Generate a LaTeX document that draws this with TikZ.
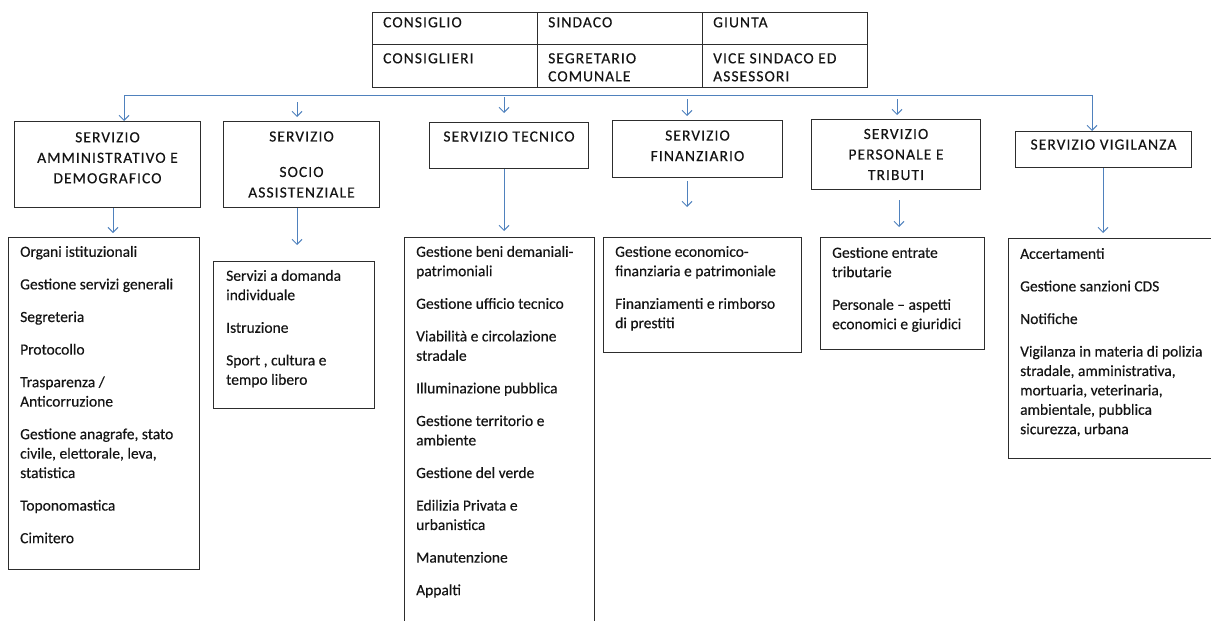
\documentclass[tikz,border=0pt]{standalone}
\usepackage{fontspec}
\setmainfont{Carlito}[FakeBold=0.35]
\newfontfamily\headfont{Carlito}[LetterSpace=7,FakeBold=0.35]
\usetikzlibrary{arrows.meta}

\definecolor{linkblue}{RGB}{79,129,189}
\definecolor{boxgray}{RGB}{45,45,45}
\definecolor{textgray}{RGB}{20,20,20}

\tikzset{
  cell/.style={draw=boxgray, line width=1pt, anchor=north west, inner sep=0pt, minimum width=165pt},
  headbox/.style={draw=boxgray, line width=1pt, anchor=north west, align=center, inner sep=0pt,
    text=textgray, font=\headfont\fontsize{15.5}{20.5}\selectfont},
  listbox/.style={draw=boxgray, line width=1pt, anchor=north west, inner sep=0pt},
  celltext/.style={anchor=north west, align=left, inner sep=0pt, text=textgray,
    font=\headfont\fontsize{15.5}{18}\selectfont},
  listtext/.style={anchor=north west, align=left, inner sep=0pt, text=textgray,
    font=\fontsize{15.5}{19.4}\selectfont},
  link/.style={draw=linkblue, line width=1pt, -{Straight Barb[length=5pt,width=10pt]}},
}

\begin{document}
\begin{tikzpicture}[x=1pt, y=-1pt]
    \useasboundingbox (0,0) rectangle (1211,621);

    % organi di governo
    \node[cell, minimum height=32pt] (consiglio) at (372,12) {};
    \node[cell, minimum height=32pt] (sindaco) at (537,12) {};
    \node[cell, minimum height=32pt] (giunta) at (702,12) {};
    \node[cell, minimum height=43pt] (consiglieri) at (372,44) {};
    \node[cell, minimum height=43pt] (segretario) at (537,44) {};
    \node[cell, minimum height=43pt] (assessori) at (702,44) {};

    \node[celltext] (consiglioT) at ([shift={(11,2.5)}]consiglio.north west) {\strut CONSIGLIO};
    \node[celltext] (sindacoT) at ([shift={(11,2.5)}]sindaco.north west) {\strut SINDACO};
    \node[celltext] (giuntaT) at ([shift={(11,2.5)}]giunta.north west) {\strut GIUNTA};
    \node[celltext] (consiglieriT) at ([shift={(11,6.5)}]consiglieri.north west) {\strut CONSIGLIERI};
    \node[celltext] (segretarioT) at ([shift={(11,6.5)}]segretario.north west) {\strut SEGRETARIO\\COMUNALE};
    \node[celltext] (assessoriT) at ([shift={(11,6.5)}]assessori.north west) {\strut VICE SINDACO ED\\ASSESSORI};

    % servizi
    \node[headbox, minimum width=186pt, minimum height=86pt] (amm) at (14,121) {SERVIZIO\\AMMINISTRATIVO E\\DEMOGRAFICO\\[-7pt]\mbox{}};
    \node[headbox, minimum width=156pt, minimum height=86pt] (soc) at (223,121) {SERVIZIO\\[15pt]SOCIO\\ASSISTENZIALE};
    \node[headbox, minimum width=159pt, text height=19pt, text depth=27pt] (tec) at (429,122) {SERVIZIO TECNICO};
    \node[headbox, minimum width=170pt, minimum height=57pt] (fin) at (612,120) {SERVIZIO\\FINANZIARIO\\[-14pt]\mbox{}};
    \node[headbox, minimum width=169pt, minimum height=70pt] (per) at (811,119) {SERVIZIO\\PERSONALE E\\TRIBUTI};
    \node[headbox, minimum width=176pt, text height=18pt, text depth=18pt] (vig) at (1015,131) {SERVIZIO VIGILANZA};

    \coordinate (busL) at (124,95);
    \coordinate (busR) at (1092,95);
    \draw[link] (busL) -- (busR) -- (busR |- vig.north);
    \draw[link] (busL) -- (busL |- amm.north);

    \coordinate (socFrom) at (297,102);
    \coordinate (tecFrom) at (504,97);
    \coordinate (finFrom) at (687,99);
    \coordinate (perFrom) at (897,99);
    \draw[link, shorten >=4pt] (socFrom) -- (socFrom |- soc.north);
    \draw[link, shorten >=9pt] (tecFrom) -- (tecFrom |- tec.north);
    \draw[link, shorten >=4pt] (finFrom) -- (finFrom |- fin.north);
    \draw[link, shorten >=4pt] (perFrom) -- (perFrom |- per.north);

    % competenze
    \node[listbox, minimum width=191pt, minimum height=332pt] (ammL) at (8,237) {};
    \node[listbox, minimum width=161pt, minimum height=147pt] (socL) at (213,261) {};
    \node[listbox, minimum width=190pt, minimum height=400pt] (tecL) at (404,237) {};
    \node[listbox, minimum width=198pt, minimum height=115pt] (finL) at (603,237) {};
    \node[listbox, minimum width=164pt, minimum height=112pt] (perL) at (820,237) {};
    \node[listbox, minimum width=210pt, minimum height=220pt] (vigL) at (1008,238) {};

    \coordinate (ammTip) at (113,233);
    \coordinate (socTip) at (297,245);
    \coordinate (tecTip) at (504,231);
    \coordinate (finTip) at (687,207);
    \coordinate (perTip) at (899,227);
    \coordinate (vigTip) at (1103,233);
    \draw[link] (ammTip |- amm.south) -- (ammTip);
    \draw[link] (socTip |- soc.south) -- (socTip);
    \draw[link] (tecTip |- tec.south) -- (tecTip);
    \draw[link, shorten <=3pt] (finTip |- fin.south) -- (finTip);
    \draw[link, shorten <=10pt] (perTip |- per.south) -- (perTip);
    \draw[link] (vigTip |- vig.south) -- (vigTip);

    \node[listtext] (ammT) at ([shift={(12,6)}]ammL.north west) {\strut Organi istituzionali\\[13.2pt]Gestione servizi generali\\[13.2pt]Segreteria\\[13.2pt]Protocollo\\[13.2pt]Trasparenza /\\Anticorruzione\\[13.2pt]Gestione anagrafe, stato\\civile, elettorale, leva,\\statistica\\[13.2pt]Toponomastica\\[13.2pt]Cimitero};
    \node[listtext] (socT) at ([shift={(13,6)}]socL.north west) {\strut Servizi a domanda\\individuale\\[13.2pt]Istruzione\\[13.2pt]Sport , cultura e\\tempo libero};
    \node[listtext] (tecT) at ([shift={(12,6)}]tecL.north west) {\strut Gestione beni demaniali-\\patrimoniali\\[13.2pt]Gestione ufficio tecnico\\[13.2pt]Viabilità e circolazione\\stradale\\[13.2pt]Illuminazione pubblica\\[13.2pt]Gestione territorio e\\ambiente\\[13.2pt]Gestione del verde\\[13.2pt]Edilizia Privata e\\urbanistica\\[13.2pt]Manutenzione\\[13.2pt]Appalti};
    \node[listtext] (finT) at ([shift={(12,6)}]finL.north west) {\strut Gestione economico-\\finanziaria e patrimoniale\\[13.2pt]Finanziamenti e rimborso\\di prestiti};
    \node[listtext] (perT) at ([shift={(12,7)}]perL.north west) {\strut Gestione entrate\\tributarie\\[13.2pt]Personale -- aspetti\\economici e giuridici};
    \node[listtext] (vigT) at ([shift={(12,7)}]vigL.north west) {\strut Accertamenti\\[13.2pt]Gestione sanzioni CDS\\[13.2pt]Notifiche\\[13.2pt]Vigilanza in materia di polizia\\stradale, amministrativa,\\mortuaria, veterinaria,\\ambientale, pubblica\\sicurezza, urbana};
\end{tikzpicture}
\end{document}
